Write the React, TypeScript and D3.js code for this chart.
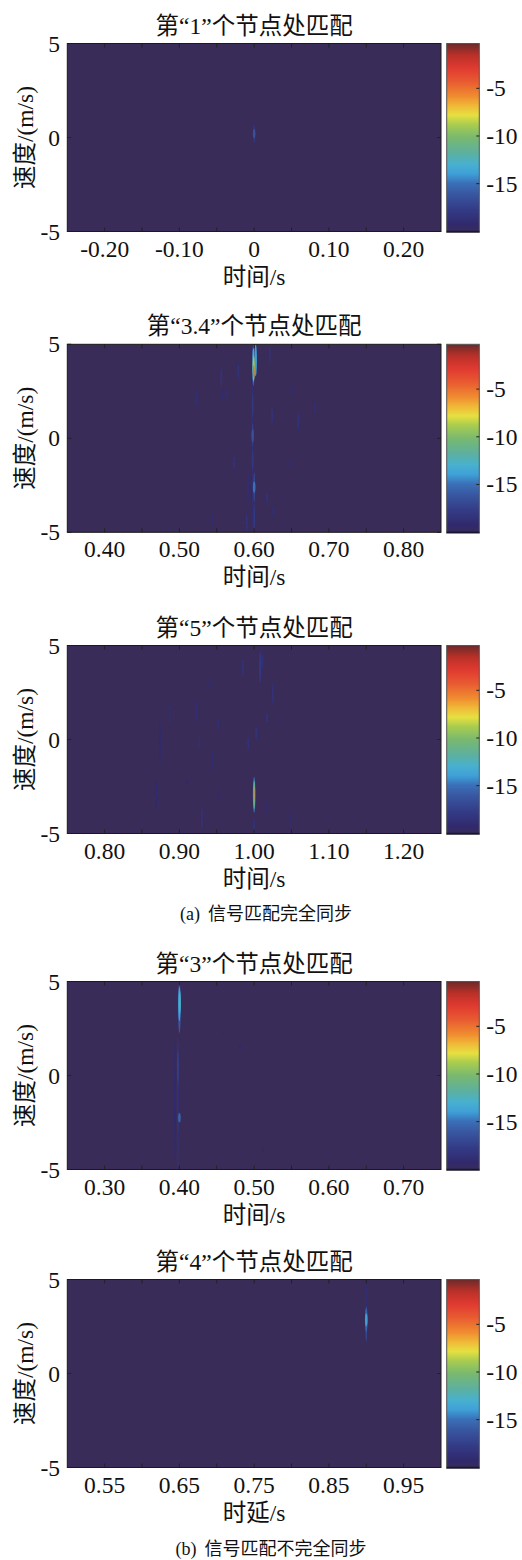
import React from "react";
import * as d3 from "d3";

// ---------------- data ----------------
const titles = [
  "第“1”个节点处匹配",
  "第“3.4”个节点处匹配",
  "第“5”个节点处匹配",
  "第“3”个节点处匹配",
  "第“4”个节点处匹配",
];
const xLabels = ["时间/s", "时间/s", "时间/s", "时间/s", "时延/s"];
const yLabel = "速度/(m/s)";
const captions = ["信号匹配完全同步", "信号匹配不完全同步"];
const captionTags = ["(a)", "(b)"];

const xDomains: [number, number][] = [
  [-0.25, 0.25],
  [0.35, 0.85],
  [0.75, 1.25],
  [0.25, 0.75],
  [0.5, 1.0],
];
const xMinorTicks = [
  [-0.2, -0.15, -0.1, -0.05, 0, 0.05, 0.1, 0.15, 0.2],
  [0.4, 0.45, 0.5, 0.55, 0.6, 0.65, 0.7, 0.75, 0.8],
  [0.8, 0.85, 0.9, 0.95, 1.0, 1.05, 1.1, 1.15, 1.2],
  [0.3, 0.35, 0.4, 0.45, 0.5, 0.55, 0.6, 0.65, 0.7],
  [0.55, 0.6, 0.65, 0.7, 0.75, 0.8, 0.85, 0.9, 0.95],
];
const xTickLabels = [
  [-0.2, -0.1, 0, 0.1, 0.2],
  [0.4, 0.5, 0.6, 0.7, 0.8],
  [0.8, 0.9, 1.0, 1.1, 1.2],
  [0.3, 0.4, 0.5, 0.6, 0.7],
  [0.55, 0.65, 0.75, 0.85, 0.95],
];
const yDomain: [number, number] = [-5, 5];
const yTicks = [-5, 0, 5];
const cbDomain: [number, number] = [-20.1, -0.3];
const cbTicks = [-5, -10, -15];
const floorLevel = -20.1;

// streaks: [time, velocityLow, velocityHigh, level(dB)]
const match1 = [
  [0.0, -0.3, 0.7, -18],
  [0.0, -0.05, 0.45, -16.5],
];
const match34 = [
  [0.598, -5.0, 5.0, -19],
  [0.598, 1.1, 2.4, -18],
  [0.598, -0.45, 0.8, -17.5],
  [0.598, -0.2, 0.5, -16.5],
  [0.598, -1.7, -0.6, -18],
  [0.6, -3.4, -1.8, -17],
  [0.6, -2.9, -2.3, -15],
  [0.6, -5.0, -3.5, -18],
  [0.556, 2.7, 3.8, -18.5],
  [0.579, 3.1, 4.0, -18.5],
  [0.523, 1.7, 2.6, -19],
  [0.563, 2.1, 2.6, -19],
  [0.621, 4.0, 4.9, -18.5],
  [0.651, 2.4, 2.8, -19],
  [0.624, 0.8, 1.6, -18.5],
  [0.659, 0.4, 1.4, -18.5],
  [0.681, 1.35, 2.0, -19],
  [0.573, -1.65, -0.95, -18.5],
  [0.592, -3.4, -1.8, -19],
  [0.617, -3.4, -2.9, -18.5],
  [0.625, -4.2, -3.6, -19],
  [0.544, -4.6, -4.0, -19],
  [0.59, -5.0, -4.0, -18.5],
  [0.648, -1.6, -1.1, -19],
  [0.558, 2.0, 2.6, -19],
  [0.602, 3.3, 5.0, -14],
  [0.599, 2.8, 5.0, -15.5],
  [0.599, 3.0, 4.8, -12],
  [0.5995, 3.1, 4.4, -9],
  [0.5995, 3.2, 3.9, -4.5],
];
const match5 = [
  [1.0, -5.0, -4.2, -18.5],
  [0.985, 3.4, 4.25, -18.5],
  [1.008, 3.0, 4.7, -18],
  [1.011, 3.8, 4.6, -18.5],
  [1.025, 1.9, 3.0, -18.5],
  [1.017, 0.9, 1.4, -18.5],
  [1.032, 0.9, 1.2, -19],
  [1.003, 0.0, 0.7, -18.5],
  [0.992, -0.57, 0.14, -18.5],
  [0.941, 2.64, 3.2, -19],
  [0.887, 0.7, 2.1, -19],
  [0.923, 0.9, 2.1, -19],
  [0.927, -0.57, 0.33, -19],
  [0.952, 0.5, 1.2, -19],
  [0.874, -1.3, 1.0, -19.2],
  [0.945, -1.8, -0.57, -19],
  [0.869, -3.6, -2.2, -19.2],
  [0.93, -4.85, -3.6, -18.5],
  [1.017, -3.9, -3.3, -19],
  [1.048, -4.7, -3.8, -19],
  [0.91, -2.4, -2.1, -19.2],
  [0.952, -3.1, -2.8, -19.2],
  [1.0, -3.9, -2.0, -15],
  [1.0, -3.7, -2.2, -11],
  [0.9995, -3.3, -2.5, -5],
];
const match3 = [
  [0.394, -4.6, 1.8, -19.2],
  [0.398, -5.0, 2.1, -18.5],
  [0.398, -0.4, 1.36, -17.5],
  [0.4, -2.5, -2.0, -15.5],
  [0.459, 2.1, 2.4, -19.3],
  [0.481, 1.35, 1.65, -19.3],
  [0.512, -4.1, -3.9, -19.3],
  [0.4, 2.25, 4.95, -16],
  [0.4, 2.9, 4.7, -14],
  [0.4005, 3.3, 4.5, -12.5],
];
const match4 = [
  [0.9, 3.6, 4.8, -19],
  [0.9, 1.7, 3.6, -17],
  [0.9, 2.2, 3.5, -15.5],
  [0.9, 2.5, 3.2, -14],
];
const panelData = [match1, match34, match5, match3, match4];

// colormap stops (fraction of colour range, colour)
const cmapStops = [0, 0.04, 0.12, 0.2, 0.26, 0.31, 0.36, 0.42, 0.5, 0.57, 0.62, 0.67, 0.72, 0.8, 0.87, 0.94, 1];
const cmapColors = [
  "#3a2c58", "#30296c", "#343b86", "#3856a0", "#3a70b8", "#3fa0d8", "#48b0d0", "#5cb0a0",
  "#78b870", "#a8cc50", "#e6e040", "#f0b838", "#f08c30", "#e85a30", "#e03a30", "#b83028", "#6a2a2a",
];

// ---------------- layout ----------------
const W = 522;
const H = 1560;
const plotLeft = 67.3;
const plotRight = 441;
const plotH = 188;
const panelTops = [43.5, 344.3, 645.5, 981.5, 1279.5];
const cbLeft = 446.7;
const cbRight = 479.3;
const captionPos = [
  { x: 266, y: 920 },
  { x: 271, y: 1555 },
];
const FONT = "'Liberation Serif', 'Times New Roman', 'Noto Sans CJK SC', serif";
const FS = 23.5;

const cbColor = d3
  .scaleLinear<string>()
  .domain(cmapStops.map((s) => cbDomain[0] + s * (cbDomain[1] - cbDomain[0])))
  .range(cmapColors)
  .interpolate(d3.interpolateRgb)
  .clamp(true);

const fmtX = (v: number) => (Math.abs(v) < 1e-9 ? "0" : v.toFixed(2));

function Panel({ i }: { i: number }) {
  const top = panelTops[i];
  const bottom = top + plotH;
  const x = d3.scaleLinear().domain(xDomains[i]).range([plotLeft, plotRight]);
  const y = d3.scaleLinear().domain(yDomain).range([bottom, top]);
  const cbY = d3.scaleLinear().domain(cbDomain).range([bottom + 0.8, top]);
  const clipId = `clip${i}`;
  const gradId = `cbgrad${i}`;
  const streaks = panelData[i];
  const rxFor = (lv: number) => (lv >= -7 ? 0.7 : lv >= -13 ? 1.0 : lv >= -16.6 ? 1.3 : 0.9);
  return (
    <g>
      <defs>
        <clipPath id={clipId}>
          <rect x={plotLeft} y={top} width={plotRight - plotLeft} height={plotH} />
        </clipPath>
        <linearGradient id={gradId} x1="0" y1="1" x2="0" y2="0">
          {cmapStops.map((s, k) => (
            <stop key={k} offset={s} stopColor={cmapColors[k]} />
          ))}
        </linearGradient>
      </defs>
      {/* title */}
      <text x={(plotLeft + plotRight) / 2} y={top - 10} textAnchor="middle" fontSize={FS} fontFamily={FONT} fill="#111">
        {titles[i]}
      </text>
      {/* heatmap */}
      <rect x={plotLeft} y={top} width={plotRight - plotLeft} height={plotH} fill={cbColor(floorLevel)} />
      <g clipPath={`url(#${clipId})`}>
        <g filter="url(#soft)">
          {streaks.map((s, k) => {
            const [t, v0, v1, lv] = s;
            const cy = (y(v0) + y(v1)) / 2;
            const ry = Math.abs(y(v0) - y(v1)) / 2;
            return <ellipse key={k} cx={x(t)} cy={cy} rx={rxFor(lv)} ry={ry} fill={cbColor(lv)} />;
          })}
        </g>
      </g>
      {/* ticks */}
      {xMinorTicks[i].map((t, k) => (
        <g key={k}>
          <line x1={x(t)} x2={x(t)} y1={top} y2={top + 4} stroke="#222" strokeWidth={1} />
          <line x1={x(t)} x2={x(t)} y1={bottom} y2={bottom - 4} stroke="#222" strokeWidth={1} />
        </g>
      ))}
      {yTicks.map((t, k) => (
        <g key={k}>
          <line x1={plotLeft} x2={plotLeft + 4} y1={y(t)} y2={y(t)} stroke="#222" strokeWidth={1} />
          <line x1={plotRight} x2={plotRight - 4} y1={y(t)} y2={y(t)} stroke="#222" strokeWidth={1} />
        </g>
      ))}
      <rect x={plotLeft} y={top} width={plotRight - plotLeft} height={plotH} fill="none" stroke="#1a1a1a" strokeWidth={1} />
      {/* x tick labels */}
      {xTickLabels[i].map((t, k) => (
        <text key={k} x={x(t)} y={bottom + 25} textAnchor="middle" fontSize={FS} fontFamily={FONT} fill="#111">
          {fmtX(t)}
        </text>
      ))}
      <text x={(plotLeft + plotRight) / 2} y={bottom + 53} textAnchor="middle" fontSize={FS} fontFamily={FONT} fill="#111">
        {xLabels[i]}
      </text>
      {/* y tick labels */}
      {yTicks.map((t, k) => (
        <text key={k} x={60} y={y(t) + 8} textAnchor="end" fontSize={FS} fontFamily={FONT} fill="#111">
          {String(t)}
        </text>
      ))}
      <text
        transform={`translate(33,${(top + bottom) / 2}) rotate(-90)`}
        textAnchor="middle"
        fontSize={FS}
        fontFamily={FONT}
        fill="#111"
      >
        {yLabel}
      </text>
      {/* colorbar */}
      <rect x={cbLeft} y={top} width={cbRight - cbLeft} height={plotH + 0.8} fill={`url(#${gradId})`} stroke="#555" strokeWidth={1} />
      <line x1={cbLeft} x2={cbRight} y1={bottom} y2={bottom} stroke="#1a1530" strokeWidth={1.5} />
      {cbTicks.map((t, k) => (
        <g key={k}>
          <line x1={cbRight} x2={cbRight - 3} y1={cbY(t)} y2={cbY(t)} stroke="#222" strokeWidth={1} />
          <text x={cbRight + 7} y={cbY(t) + 8} fontSize={FS} fontFamily={FONT} fill="#111">
            {String(t)}
          </text>
        </g>
      ))}
    </g>
  );
}

export default function App() {
  return (
    <svg
      width={W}
      height={H}
      viewBox={`0 0 ${W} ${H}`}
      style={{ position: "absolute", left: 0, top: 0, display: "block", background: "#fff" }}
    >
      <defs>
        <filter id="soft" x="-50%" y="-50%" width="200%" height="200%">
          <feGaussianBlur stdDeviation="0.5" />
        </filter>
      </defs>
      <rect x={0} y={0} width={W} height={H} fill="#fff" />
      {panelTops.map((_, i) => (
        <Panel key={i} i={i} />
      ))}
      {captions.map((c, k) => (
        <text key={k} x={captionPos[k].x} y={captionPos[k].y} textAnchor="middle" fontSize={18} fontFamily={FONT} fill="#111">
          <tspan>{captionTags[k]}</tspan>
          <tspan dx={8}>{c}</tspan>
        </text>
      ))}
    </svg>
  );
}
